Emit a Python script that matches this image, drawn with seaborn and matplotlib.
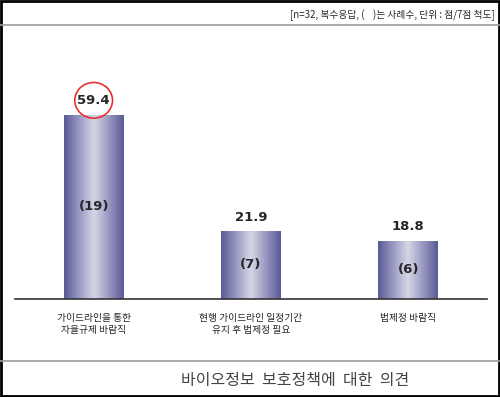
import numpy as np
import pandas as pd
import matplotlib
matplotlib.use("Agg")
import matplotlib.pyplot as plt
import seaborn as sns
from matplotlib.patches import Ellipse, Rectangle
from matplotlib.colors import LinearSegmentedColormap
from matplotlib.lines import Line2D

categories = ["가이드라인을 통한\n자율규제 바람직",
              "현행 가이드라인 일정기간\n유지 후 법제정 필요",
              "법제정 바람직"]
values = [59.4, 21.9, 18.8]
counts = [19, 7, 6]
header = "[n=32, 복수응답, (    )는 사례수, 단위 : 점/7점 척도]"
caption = "바이오정보  보호정책에  대한  의견"

sns.set_style("white")
plt.rcParams['font.family'] = ['Noto Sans CJK KR', 'DejaVu Sans']

df = pd.DataFrame({"cat": categories, "val": values})

fig = plt.figure(figsize=(5, 3.97), dpi=100)
ax = fig.add_axes([0.03, 0.2469, 0.944, 0.602])

sns.barplot(data=df, x="cat", y="val", ax=ax, width=0.38, color="#8080b0")

# gradient fill clipped to each bar
grad_cmap = LinearSegmentedColormap.from_list(
    "cyl", ["#5a5a96", "#9898c2", "#d6d6e6", "#9898c2", "#5a5a96"])
gx = np.linspace(0, 1, 256).reshape(1, -1)
for patch in ax.patches:
    x0, y0 = patch.get_x(), patch.get_y()
    w, h = patch.get_width(), patch.get_height()
    patch.set_facecolor("none")
    patch.set_edgecolor("none")
    im = ax.imshow(gx, extent=[x0, x0 + w, y0, y0 + h], aspect="auto",
                   cmap=grad_cmap, zorder=2)
    im.set_clip_path(patch)

ax.set_xlim(-0.5, 2.5)
ax.set_ylim(0, 77)
for s in ["top", "right", "left"]:
    ax.spines[s].set_visible(False)
ax.spines["bottom"].set_color("#333333")
ax.spines["bottom"].set_linewidth(1.2)
ax.set_yticks([])
ax.set_xticks([-0.5, 0.5, 1.5, 2.5])
ax.set_xticklabels([])
ax.tick_params(axis="x", direction="in", length=3, color="#333333")
ax.set_xlabel("")
ax.set_ylabel("")

for i, (v, c) in enumerate(zip(values, counts)):
    ax.text(i, v + 2.3, f"{v:.1f}", ha="center", va="bottom",
            fontsize=9.5, fontweight="bold", family="DejaVu Sans")
    ax.text(i, v / 2, f"({c})", ha="center", va="center",
            fontsize=9.5, fontweight="bold", family="DejaVu Sans", zorder=4)
    ax.text(i, -4.5, categories[i], ha="center", va="top",
            fontsize=7, linespacing=1.3)

# red circle around the highest value
ax.add_patch(Ellipse((0, values[0] + 4.6), 0.24, 11.5, fill=False,
                     edgecolor="#e83030", linewidth=1.2, zorder=5))

# frame elements
fig.add_artist(Line2D([0, 1], [1 - 25 / 397] * 2, color="#999999", lw=1.2))
fig.add_artist(Line2D([0, 1], [1 - 361 / 397] * 2, color="#999999", lw=1.2))
fig.add_artist(Rectangle((0.002, 0.002), 0.996, 0.996, fill=False,
                         edgecolor="black", linewidth=2, transform=fig.transFigure))
fig.text(0.99, 1 - 15 / 397, header, ha="right", va="center", fontsize=7)
fig.text(0.59, 1 - 380 / 397, caption, ha="center", va="center",
         fontsize=11.5, color="#444444")

fig.savefig("out.png", dpi=100)
